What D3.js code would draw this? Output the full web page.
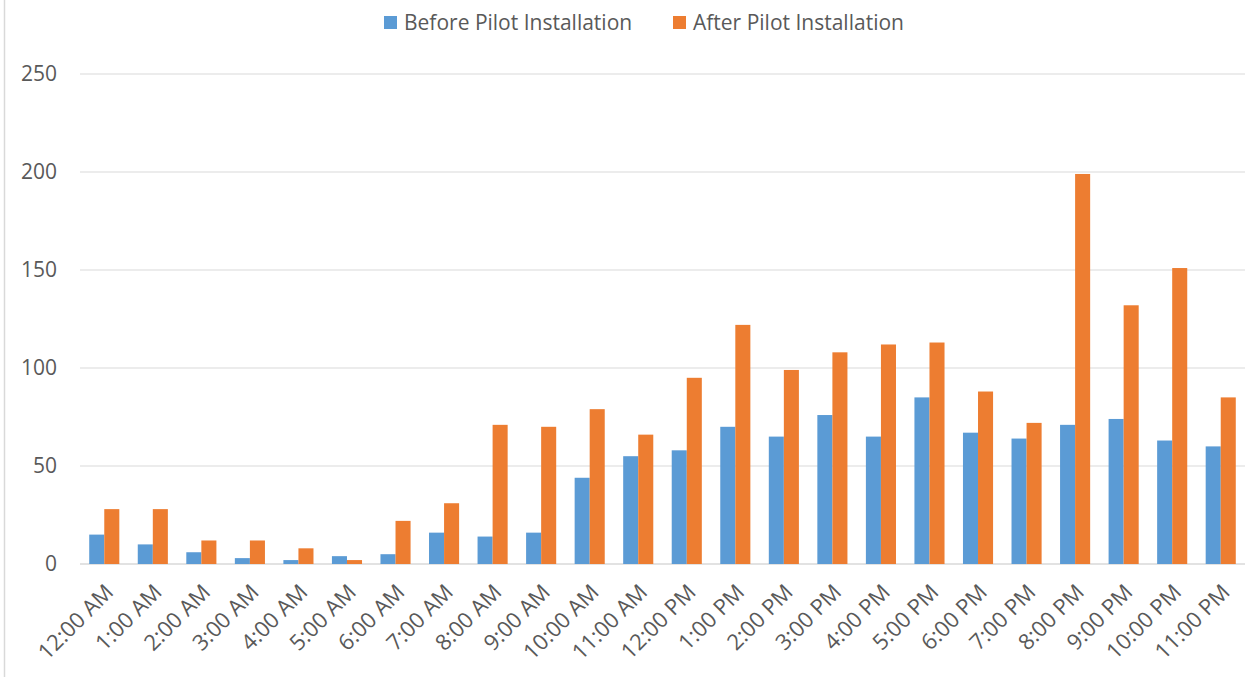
<!DOCTYPE html>
<html>
<head>
<meta charset="utf-8">
<script src="https://cdn.jsdelivr.net/npm/d3@7"></script>
<style>
  body { margin: 0; background: #fff; }
  text { font-family: "Open Sans", "Noto Sans", sans-serif; fill: #595959; }
</style>
</head>
<body>
<div id="chart"></div>
<script>
// hours of the day and counts per hour
const hours = ['12:00 AM', '1:00 AM', '2:00 AM', '3:00 AM', '4:00 AM', '5:00 AM', '6:00 AM',
  '7:00 AM', '8:00 AM', '9:00 AM', '10:00 AM', '11:00 AM', '12:00 PM', '1:00 PM', '2:00 PM',
  '3:00 PM', '4:00 PM', '5:00 PM', '6:00 PM', '7:00 PM', '8:00 PM', '9:00 PM', '10:00 PM', '11:00 PM'];
const before = [15, 10, 6, 3, 2, 4, 5, 16, 14, 16, 44, 55, 58, 70, 65, 76, 65, 85, 67, 64, 71, 74, 63, 60];
const after = [28, 28, 12, 12, 8, 2, 22, 31, 71, 70, 79, 66, 95, 122, 99, 108, 112, 113, 88, 72, 199, 132, 151, 85];
const seriesNames = ['Before Pilot Installation', 'After Pilot Installation'];
const seriesColors = ['#5B9BD5', '#ED7D31'];
const yTicks = [0, 50, 100, 150, 200, 250];

const width = 1249;
const height = 677;
const margin = { top: 74, right: 4, bottom: 113, left: 80 };

const svg = d3.select('#chart')
  .append('svg')
  .attr('width', width)
  .attr('height', height);

// thin frame line on the left edge
svg.append('line')
  .attr('x1', 4.5).attr('x2', 4.5)
  .attr('y1', 0).attr('y2', height)
  .attr('stroke', '#d9d9d9')
  .attr('stroke-width', 1.5);

const x = d3.scaleBand()
  .domain(hours)
  .range([margin.left, width - margin.right]);

const x1 = d3.scaleBand()
  .domain([0, 1])
  .range([0, x.bandwidth() * 0.62])
  .padding(0);

const y = d3.scaleLinear()
  .domain([0, 250])
  .range([height - margin.bottom, margin.top]);

// gridlines
svg.append('g')
  .selectAll('line')
  .data(yTicks)
  .join('line')
  .attr('x1', margin.left)
  .attr('x2', width - margin.right)
  .attr('y1', (d) => y(d))
  .attr('y2', (d) => y(d))
  .attr('stroke', '#d9d9d9')
  .attr('stroke-width', (d) => (d === 0 ? 1.5 : 1));

// y labels
svg.append('g')
  .selectAll('text')
  .data(yTicks)
  .join('text')
  .attr('x', 57)
  .attr('y', (d) => y(d))
  .attr('dy', '0.35em')
  .attr('text-anchor', 'end')
  .style('font-size', '21px')
  .text((d) => d);

// bars
const rows = hours.map((h, i) => ({ hour: h, values: [before[i], after[i]] }));
const groupOffset = (x.bandwidth() - x1.range()[1]) / 2;

svg.append('g')
  .selectAll('g')
  .data(rows)
  .join('g')
  .attr('transform', (d) => `translate(${x(d.hour) + groupOffset},0)`)
  .selectAll('rect')
  .data((d) => d.values.map((v, k) => ({ k, v })))
  .join('rect')
  .attr('x', (d) => x1(d.k))
  .attr('y', (d) => y(d.v))
  .attr('width', x1.bandwidth())
  .attr('height', (d) => y(0) - y(d.v))
  .attr('fill', (d) => seriesColors[d.k]);

// x labels, rotated
svg.append('g')
  .selectAll('text')
  .data(hours)
  .join('text')
  .attr('transform', (d) => `translate(${x(d) + x.bandwidth() / 2 + 5},${y(0) + 24}) rotate(-45)`)
  .attr('text-anchor', 'end')
  .attr('dy', '0.35em')
  .style('font-size', '22px')
  .text((d) => d);

// legend
const legendX = [384, 673];
const legend = svg.append('g')
  .selectAll('g')
  .data(seriesNames)
  .join('g')
  .attr('transform', (d, i) => `translate(${legendX[i]},16)`);

legend.append('rect')
  .attr('width', 13)
  .attr('height', 13)
  .attr('fill', (d, i) => seriesColors[i]);

legend.append('text')
  .attr('x', 20)
  .attr('y', 7)
  .attr('dy', '0.35em')
  .style('font-size', '21px')
  .text((d) => d);
</script>
</body>
</html>
